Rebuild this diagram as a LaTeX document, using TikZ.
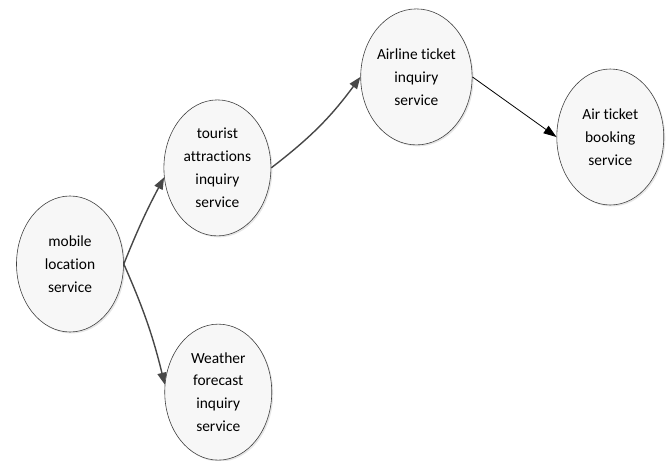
\documentclass[tikz,border=0pt]{standalone}
\usepackage{fontspec}
\setmainfont[Ligatures=NoCommon]{Carlito}
\usetikzlibrary{shapes.geometric, arrows.meta, shadows}
\tikzstyle{service} = [ellipse, minimum width=107bp, minimum height=136bp, inner sep=0pt, align=center, draw=black!75, line width=0.6pt, fill=gray!6, drop shadow={shadow xshift=1.5bp, shadow yshift=-1.5bp, opacity=.2}, font=\fontsize{15.5}{23}\selectfont]
\tikzstyle{arrow} = [line width=1.4pt, draw=black!72, -{Triangle[length=12pt,width=9pt]}]
\tikzstyle{thinArrow} = [line width=0.8pt, draw=black, -{Triangle[length=13pt,width=9pt]}]

\begin{document}
\begin{tikzpicture}[node distance=5.2cm]
\useasboundingbox (-70bp,-197bp) rectangle (598bp,264bp);

\node (mobile) [service] {mobile\\location\\service};
\node (tourist) [service,right of=mobile,yshift=3.39cm] {tourist\\attractions\\inquiry\\service};
\node (weather) [service,right of=mobile,xshift=.03cm,yshift=-4.52cm] {Weather\\forecast\\inquiry\\service};
\node (airline) [service,right of=tourist,xshift=1.82cm,yshift=3.21cm] {Airline ticket\\inquiry\\service};
\node (booking) [service,right of=airline,xshift=1.64cm,yshift=-2.12cm] {Air ticket\\booking\\service};

\draw [arrow] (mobile.east) to[bend left=3] (tourist.190);
\draw [arrow] (mobile.east) to[bend left=5] (weather.172);
\draw [arrow] (tourist.east) to[bend right=8] (airline.west);
\draw [thinArrow] (airline.east) -- (booking.west);
\end{tikzpicture}
\end{document}
